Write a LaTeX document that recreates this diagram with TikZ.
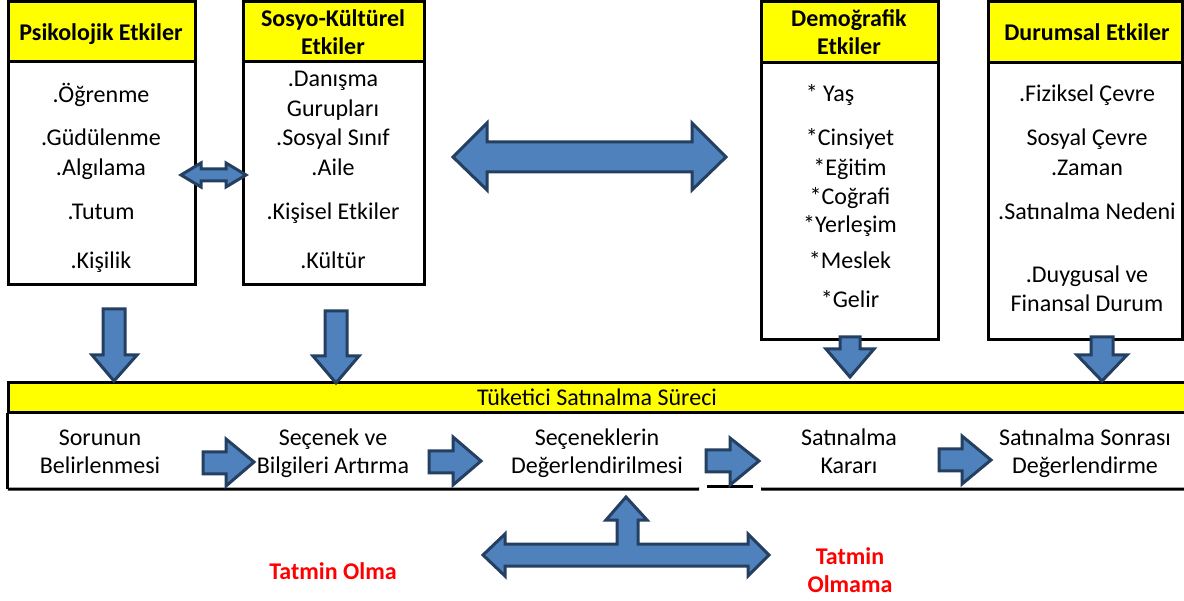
\documentclass[tikz,border=0pt]{standalone}
\usepackage{fontspec}
\setmainfont{Carlito}
\definecolor{afill}{HTML}{4F81BD}
\definecolor{aline}{HTML}{243F60}
\definecolor{tred}{HTML}{FF0000}
\definecolor{hyellow}{HTML}{FFFF00}
\begin{document}
\begin{tikzpicture}[x=1pt,y=-1pt,
  hdr/.style={draw=black, line width=3pt, fill=hyellow, inner sep=0pt, anchor=center},
  bodybox/.style={draw=black, line width=3pt, fill=white, inner sep=0pt, anchor=center},
  txt/.style={font=\fontsize{24}{29}\selectfont, inner sep=0pt, anchor=base},
  btxt/.style={font=\fontsize{24}{29}\selectfont\bfseries, inner sep=0pt, anchor=base},
  rtxt/.style={font=\fontsize{24}{29}\selectfont\bfseries, text=tred, inner sep=0pt, anchor=base},
  blockarrow/.style={fill=afill, draw=aline, line width=3pt, line join=miter}
]
\useasboundingbox (0,0) rectangle (1184,601);

% ---- Box 1: Psikolojik
\node[bodybox, minimum width=187pt, minimum height=223pt] (psyb) at (101.5,173.5) {};
\node[hdr, minimum width=187pt, minimum height=60pt] (psyh) at (101.5,32) {};
\node[btxt] (psyt) at (101,41) {Psikolojik Etkiler};
\node[txt] (p1) at (101,103) {.Öğrenme};
\node[txt] (p2) at (101,146) {.Güdülenme};
\node[txt] (p3) at (101,176) {.Algılama};
\node[txt] (p4) at (101,220) {.Tutum};
\node[txt] (p5) at (101,269) {.Kişilik};

% ---- Box 2: Sosyo-Kültürel
\node[bodybox, minimum width=181pt, minimum height=223pt] (sosb) at (333.5,173.5) {};
\node[hdr, minimum width=181pt, minimum height=60pt] (sosh) at (333.5,32) {};
\node[btxt] (sost1) at (333,27) {Sosyo-Kültürel};
\node[btxt] (sost2) at (333,55) {Etkiler};
\node[txt] (s1) at (333,87) {.Danışma};
\node[txt] (s2) at (333,117) {Gurupları};
\node[txt] (s3) at (333,146) {.Sosyal Sınıf};
\node[txt] (s4) at (333,176) {.Aile};
\node[txt] (s5) at (333,220) {.Kişisel Etkiler};
\node[txt] (s6) at (333,269) {.Kültür};

% ---- Box 3: Demoğrafik
\node[bodybox, minimum width=177pt, minimum height=277pt] (demb) at (849.5,201.5) {};
\node[hdr, minimum width=177pt, minimum height=61pt] (demh) at (849.5,32.5) {};
\node[btxt] (demt1) at (849,27) {Demoğrafik};
\node[btxt] (demt2) at (849,55) {Etkiler};
\node[txt] (d1) at (830,102) {* Yaş};
\node[txt] (d2) at (850,146) {*Cinsiyet};
\node[txt] (d3) at (850,176) {*Eğitim};
\node[txt] (d4) at (850,205) {*Coğrafi};
\node[txt] (d5) at (850,233) {*Yerleşim};
\node[txt] (d6) at (850,269) {*Meslek};
\node[txt] (d7) at (850,308) {*Gelir};

% ---- Box 4: Durumsal
\node[bodybox, minimum width=194pt, minimum height=277pt] (durb) at (1085,201.5) {};
\node[hdr, minimum width=194pt, minimum height=61pt] (durh) at (1085,32.5) {};
\node[btxt] (durt) at (1087,41) {Durumsal Etkiler};
\node[txt] (u1) at (1087,102) {.Fiziksel Çevre};
\node[txt] (u2) at (1087,146) {Sosyal Çevre};
\node[txt] (u3) at (1087,176) {.Zaman};
\node[txt] (u4) at (1087,220) {.Satınalma Nedeni};
\node[txt] (u5) at (1087,283) {.Duygusal ve};
\node[txt] (u6) at (1087,312) {Finansal Durum};

% ---- Process box
\node[inner sep=0pt, minimum width=1182pt, minimum height=76pt, fill=white] (procb) at (599,451) {};
\draw[line width=3pt] (procb.north west) -- (procb.south west);
\coordinate (g1) at (699,489);
\coordinate (g2) at (707,487);
\coordinate (g3) at (753,487);
\coordinate (g4) at (761,489);
\draw[line width=3pt] (procb.south west) -- (g1);
\draw[line width=3pt] (g2) -- (g3);
\draw[line width=3pt] (g4) -- (procb.south east);
\node[hdr, minimum width=1182pt, minimum height=30pt] (proch) at (599,398) {};
\node[txt] (proct) at (597,406) {Tüketici Satınalma Süreci};

\node[txt] (a1) at (100,446) {Sorunun};
\node[txt] (a2) at (100,474) {Belirlenmesi};
\node[txt] (b1) at (333,446) {Seçenek ve};
\node[txt] (b2) at (333,474) {Bilgileri Artırma};
\node[txt] (c1) at (597,446) {Seçeneklerin};
\node[txt] (c2) at (597,474) {Değerlendirilmesi};
\node[txt] (e1) at (849,446) {Satınalma};
\node[txt] (e2) at (849,474) {Kararı};
\node[txt] (f1) at (1085,446) {Satınalma Sonrası};
\node[txt] (f2) at (1085,474) {Değerlendirme};

% ---- Red labels
\node[rtxt] (r1) at (333,579) {Tatmin Olma};
\node[rtxt] (r2) at (850,564) {Tatmin};
\node[rtxt] (r3) at (850,592) {Olmama};

% ---- Double arrows
\draw[blockarrow] (181,175) -- (201,163) -- (201,169) -- (226,169) -- (226,163) -- (246,175)
  -- (226,187) -- (226,181) -- (201,181) -- (201,187) -- cycle;
\draw[blockarrow] (453,157) -- (487,123) -- (487,142) -- (692,142) -- (692,123) -- (726,157)
  -- (692,190) -- (692,172) -- (487,172) -- (487,190) -- cycle;

% ---- Down arrows
\draw[blockarrow] (103,309) -- (125,309) -- (125,355) -- (137,355) -- (114,381) -- (92,355) -- (103,355) -- cycle;
\draw[blockarrow] (325,311) -- (347,311) -- (347,356) -- (359,356) -- (336,383) -- (313,356) -- (325,356) -- cycle;
\draw[blockarrow] (840,337) -- (860,337) -- (860,349) -- (874,349) -- (850,377) -- (826,349) -- (840,349) -- cycle;
\draw[blockarrow] (1091,337) -- (1113,337) -- (1113,355) -- (1127,355) -- (1102,381) -- (1077,355) -- (1091,355) -- cycle;

% ---- Right arrows
\draw[blockarrow] (203,452) -- (226,452) -- (226,439) -- (254,462) -- (226,486) -- (226,474) -- (203,474) -- cycle;
\draw[blockarrow] (429,451) -- (453,451) -- (453,437) -- (481,461) -- (453,485) -- (453,473) -- (429,473) -- cycle;
\draw[blockarrow] (706,450) -- (730,450) -- (730,438) -- (759,461) -- (730,485) -- (730,472) -- (706,472) -- cycle;
\draw[blockarrow] (939,449) -- (962,449) -- (962,436) -- (991,460) -- (962,484) -- (962,471) -- (939,471) -- cycle;

% ---- T arrow (left-right-up)
\draw[blockarrow] (483,555) -- (505,534) -- (505,544) -- (617,544) -- (617,520) -- (606,520) -- (626,497)
  -- (647,520) -- (638,520) -- (638,544) -- (748,544) -- (748,534) -- (769,555) -- (748,576)
  -- (748,566) -- (505,566) -- (505,576) -- cycle;
\end{tikzpicture}
\end{document}
